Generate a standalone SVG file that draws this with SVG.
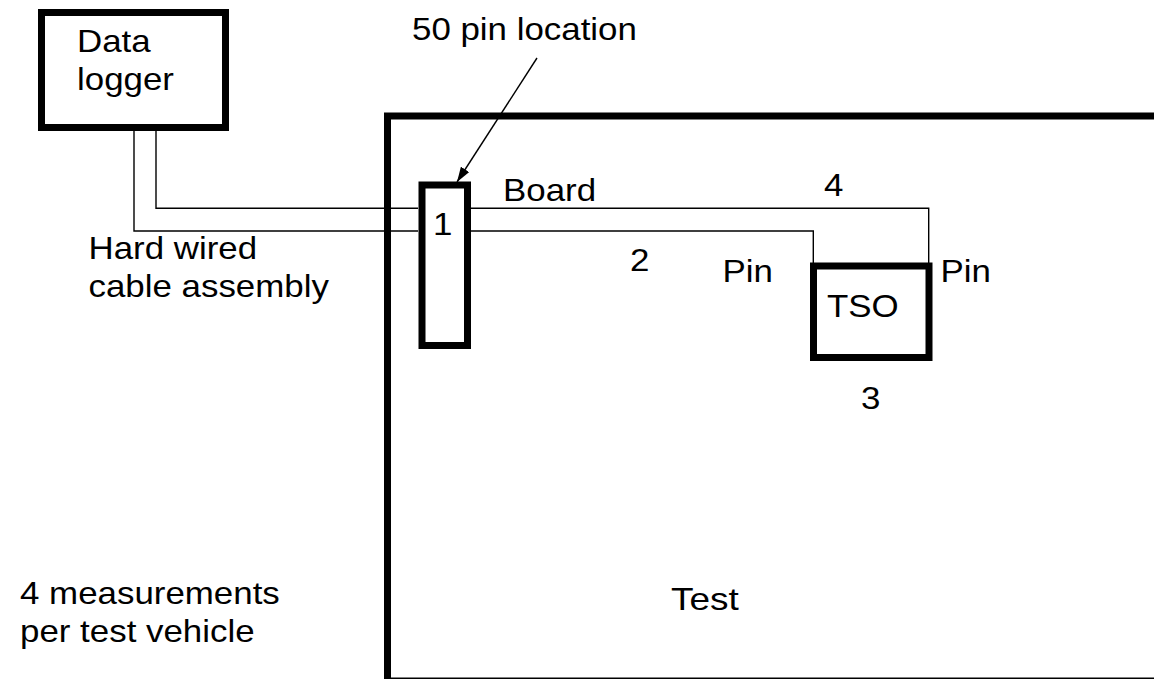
<svg xmlns="http://www.w3.org/2000/svg" width="1154" height="679" viewBox="0 0 1154 679">
<style>
.box{fill:none;stroke:#000;stroke-width:7}
.wire{fill:none;stroke:#000;stroke-width:1.4}
.lbl{font-family:"Liberation Sans",Arial,sans-serif;font-size:32px;fill:#000}
</style>
<defs>
<marker id="ah" viewBox="0 0 15 10" refX="15" refY="5" markerUnits="userSpaceOnUse" markerWidth="15" markerHeight="10" orient="auto">
<path d="M0,0 L15,5 L0,10 z" fill="#000"/>
</marker>
</defs>
<rect width="1154" height="679" fill="#fff"/>
<g id="connectors">
<path class="wire" d="M134,131 V231 H418"/>
<path class="wire" d="M156,131 V208.3 H418"/>
<path class="wire" d="M471,208.3 H928.7 V263"/>
<path class="wire" d="M471,231 H813.3 V263"/>
<line class="wire" x1="537" y1="58" x2="457" y2="182" marker-end="url(#ah)"/>
</g>
<g id="test-board">
<rect class="box" x="387.5" y="116" width="800" height="565"/>
<text class="lbl" x="671" y="610" textLength="67.8" lengthAdjust="spacingAndGlyphs">Test</text>
<text class="lbl" x="503" y="201" textLength="93.1" lengthAdjust="spacingAndGlyphs">Board</text>
</g>
<g id="data-logger">
<rect class="box" x="41.5" y="12.5" width="184" height="115"/>
<text class="lbl" x="77" y="52" textLength="73.7" lengthAdjust="spacingAndGlyphs">Data</text>
<text class="lbl" x="77" y="90" textLength="96.9" lengthAdjust="spacingAndGlyphs">logger</text>
</g>
<g id="connector-1">
<rect class="box" x="422" y="185" width="45.5" height="160.5"/>
<text class="lbl" x="433" y="235" textLength="19.4" lengthAdjust="spacingAndGlyphs">1</text>
</g>
<g id="tso">
<rect class="box" x="813.5" y="266" width="115.5" height="91.5"/>
<text class="lbl" x="827" y="317" textLength="71.7" lengthAdjust="spacingAndGlyphs">TSO</text>
</g>
<g id="labels">
<text class="lbl" x="412" y="40" textLength="224.9" lengthAdjust="spacingAndGlyphs">50 pin location</text>
<text class="lbl" x="88.5" y="259" textLength="168.6" lengthAdjust="spacingAndGlyphs">Hard wired</text>
<text class="lbl" x="88.5" y="297" textLength="240.4" lengthAdjust="spacingAndGlyphs">cable assembly</text>
<text class="lbl" x="824" y="196" textLength="19.4" lengthAdjust="spacingAndGlyphs">4</text>
<text class="lbl" x="630" y="271" textLength="19.4" lengthAdjust="spacingAndGlyphs">2</text>
<text class="lbl" x="722.5" y="282" textLength="50.4" lengthAdjust="spacingAndGlyphs">Pin</text>
<text class="lbl" x="940.5" y="282" textLength="50.4" lengthAdjust="spacingAndGlyphs">Pin</text>
<text class="lbl" x="861" y="409" textLength="19.4" lengthAdjust="spacingAndGlyphs">3</text>
<text class="lbl" x="20" y="604" textLength="259.8" lengthAdjust="spacingAndGlyphs">4 measurements</text>
<text class="lbl" x="20" y="642" textLength="234.6" lengthAdjust="spacingAndGlyphs">per test vehicle</text>
</g>
</svg>
